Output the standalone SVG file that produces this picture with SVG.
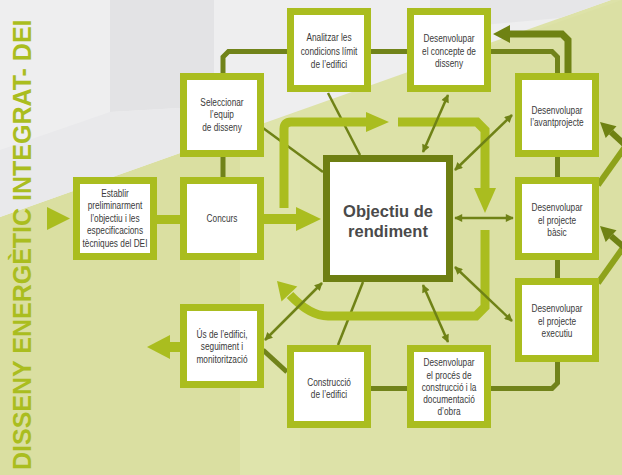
<svg xmlns="http://www.w3.org/2000/svg" width="622" height="475" viewBox="0 0 622 475">
<style>
.box{fill:#ffffff;stroke:#aabd1f;stroke-width:7}
.core{fill:#ffffff;stroke:#6e7f12;stroke-width:7}
.t{font-family:"Liberation Sans",Arial,sans-serif;font-size:11.5px;fill:#3a3a3a;text-anchor:middle}
.ct{font-family:"Liberation Sans",Arial,sans-serif;font-size:16.5px;font-weight:bold;fill:#4a4a4a;text-anchor:middle}
.lk{fill:none;stroke:#71831a;stroke-width:5}
.thin{fill:none;stroke:#6f8216;stroke-width:2.5}
.dbl{marker-start:url(#ah);marker-end:url(#ah)}
.lime{fill:none;stroke:#aabd1f;stroke-width:9}
.limeh{fill:#aabd1f}
.olv{fill:none;stroke:#6f8213;stroke-width:6}
.olvh{fill:#6f8213}
.olv2{fill:none;stroke:#8ea21b;stroke-width:6}
</style>
<defs>
<marker id="ah" viewBox="0 0 10 10" refX="9" refY="5" markerWidth="9" markerHeight="8" orient="auto-start-reverse" markerUnits="userSpaceOnUse">
<path d="M0,0 L10,5 L0,10 z" fill="#6f8216"/>
</marker>
</defs>

<g id="background">
<rect width="622" height="475" fill="#dde2a8"/>
<polygon points="0,217 240,132 240,475 0,475" fill="#dadfa1"/>
<polygon points="240,132 300,111 300,475 240,475" fill="#dfe4ac"/>
<polygon points="450,60 622,0 622,475 450,475" fill="#dbe0a4"/>
<polygon points="0,0 611,0 0,217" fill="#eeeeef"/>
<polygon points="110,0 214,0 214,106 110,112" fill="#e3e3e5"/>
<polygon points="0,150 110,112 214,106 214,141 0,217" fill="#e9e9eb"/>
<polygon points="430,0 611,0 560,18 430,30" fill="#e6e6e8"/>
<polygon points="47,207 70,218.5 47,230" fill="#aabd1f"/>
<text transform="translate(31,470) rotate(-90)" font-family="Liberation Sans, Arial, sans-serif" font-size="25" font-weight="bold" fill="#aabd1f">DISSENY ENERGÈTIC INTEGRAT- DEI</text>
</g>

<g id="connectors">
<path class="lk" d="M157,219.5 L180,219.5" style="stroke:#aabd1f;stroke-width:9"/>
<path class="lk" d="M223,157 L223,177"/>
<path class="lk" d="M223,73 L223,57 L228.5,51.5 L287,51.5"/>
<path class="lk" d="M370,51.5 L407,51.5"/>
<path class="lk" d="M490,51.5 L552,51.5 L557.5,57 L557.5,73"/>
<path class="lk" d="M557.5,157 L557.5,177"/>
<path class="lk" d="M557.5,260 L557.5,278"/>
<path class="lk" d="M557.5,362 L557.5,383 L552,388.5 L490,388.5"/>
<path class="lk" d="M370,388.5 L407,388.5"/>
<path class="lk" d="M263,350 L287,372"/>
<path class="olv" d="M568,73 L568,40 L562,34 L508,34" style="stroke-width:7"/>
<polygon class="olvh" points="510,25 493,34 510,43"/>
<path class="thin" d="M263,128 L323,172"/>
<path class="thin" d="M328,93 L360,155"/>
<path class="thin" d="M363,282 L338,345"/>
<path class="lime" d="M264,219 L297,219" style="stroke-width:10"/>
<polygon class="limeh" points="296,207 321,219 296,231"/>
<path class="lime" d="M284,208 L284,129 Q284,122 291,122 L368,122"/>
<polygon class="limeh" points="366,112 389,122 366,132"/>
<path class="lime" d="M398,122 L477,122 L485,130 L485,190"/>
<polygon class="limeh" points="474,188 485,213 496,188"/>
<path class="lime" d="M485,230 L485,307 L476,316 L328,316 Q310,316 290,295"/>
<polygon class="limeh" points="277,281 297.3,286.4 281.5,301.6"/>
<path class="lime" d="M181,347 L168,347" style="stroke-width:10"/>
<polygon class="limeh" points="170,335 147,347 170,359"/>
<path class="thin dbl" d="M423,152 L448,95"/>
<path class="thin dbl" d="M455,170 L512,115"/>
<path class="thin dbl" d="M455,218 L513,218"/>
<path class="thin dbl" d="M455,267 L512,321"/>
<path class="thin dbl" d="M423,285 L448,342"/>
<path class="thin dbl" d="M322,283 L265,340"/>
<path class="olv2" d="M598,185 L625,147"/>
<path class="olv" d="M625,145 L611,132"/>
<polygon class="olvh" points="600,122 616.5,126.2 605.7,138"/>
<path class="olv2" d="M598,283 L625,245"/>
<path class="olv" d="M625,248 L611,236"/>
<polygon class="olvh" points="600,226 616.5,230.2 605.7,242"/>
</g>

<g id="establir">
<rect class="box" x="76.5" y="180.5" width="77" height="76"/>
<g transform="translate(115,0) scale(0.72,1)">
<text class="t" x="0" y="197">Establir</text>
<text class="t" x="0" y="209.5">preliminarment</text>
<text class="t" x="0" y="222">l’objectiu i les</text>
<text class="t" x="0" y="234.5">especificacions</text>
<text class="t" x="0" y="247">tècniques del DEI</text>
</g>
</g>

<g id="concurs">
<rect class="box" x="183.5" y="180.5" width="77" height="76"/>
<g transform="translate(222,0) scale(0.72,1)">
<text class="t" x="0" y="222">Concurs</text>
</g>
</g>

<g id="seleccionar">
<rect class="box" x="183.5" y="76.5" width="77" height="77"/>
<g transform="translate(222,0) scale(0.72,1)">
<text class="t" x="0" y="106">Seleccionar</text>
<text class="t" x="0" y="118.5">l’equip</text>
<text class="t" x="0" y="131">de disseny</text>
</g>
</g>

<g id="analitzar">
<rect class="box" x="290.5" y="11.5" width="77" height="77"/>
<g transform="translate(329,0) scale(0.72,1)">
<text class="t" x="0" y="41">Analitzar les</text>
<text class="t" x="0" y="55">condicions límit</text>
<text class="t" x="0" y="68">de l’edifici</text>
</g>
</g>

<g id="concepte">
<rect class="box" x="410.5" y="11.5" width="77" height="77"/>
<g transform="translate(449,0) scale(0.72,1)">
<text class="t" x="0" y="42">Desenvolupar</text>
<text class="t" x="0" y="55">el concepte de</text>
<text class="t" x="0" y="67.5">disseny</text>
</g>
</g>

<g id="avantprojecte">
<rect class="box" x="518.5" y="76.5" width="77" height="77"/>
<g transform="translate(557,0) scale(0.72,1)">
<text class="t" x="0" y="114">Desenvolupar</text>
<text class="t" x="0" y="126.5">l’avantprojecte</text>
</g>
</g>

<g id="basic">
<rect class="box" x="518.5" y="180.5" width="77" height="76"/>
<g transform="translate(557,0) scale(0.72,1)">
<text class="t" x="0" y="211.5">Desenvolupar</text>
<text class="t" x="0" y="224">el projecte</text>
<text class="t" x="0" y="236.5">bàsic</text>
</g>
</g>

<g id="executiu">
<rect class="box" x="518.5" y="281.5" width="77" height="77"/>
<g transform="translate(557,0) scale(0.72,1)">
<text class="t" x="0" y="312.5">Desenvolupar</text>
<text class="t" x="0" y="325">el projecte</text>
<text class="t" x="0" y="337.5">executiu</text>
</g>
</g>

<g id="proces">
<rect class="box" x="410.5" y="348.5" width="77" height="76"/>
<g transform="translate(449,0) scale(0.72,1)">
<text class="t" x="0" y="366.5">Desenvolupar</text>
<text class="t" x="0" y="379">el procés de</text>
<text class="t" x="0" y="391">construcció i la</text>
<text class="t" x="0" y="403">documentació</text>
<text class="t" x="0" y="415.5">d’obra</text>
</g>
</g>

<g id="construccio">
<rect class="box" x="290.5" y="348.5" width="77" height="76"/>
<g transform="translate(329,0) scale(0.72,1)">
<text class="t" x="0" y="386">Construcció</text>
<text class="t" x="0" y="398">de l’edifici</text>
</g>
</g>

<g id="us">
<rect class="box" x="183.5" y="307.5" width="77" height="77"/>
<g transform="translate(222,0) scale(0.72,1)">
<text class="t" x="0" y="338">Ús de l’edifici,</text>
<text class="t" x="0" y="350">seguiment i</text>
<text class="t" x="0" y="363">monitorització</text>
</g>
</g>

<g id="objectiu">
<rect class="core" x="326.5" y="158.5" width="123" height="120"/>
<text class="ct" x="388" y="217">Objectiu de</text>
<text class="ct" x="388" y="237">rendiment</text>
</g>
</svg>
